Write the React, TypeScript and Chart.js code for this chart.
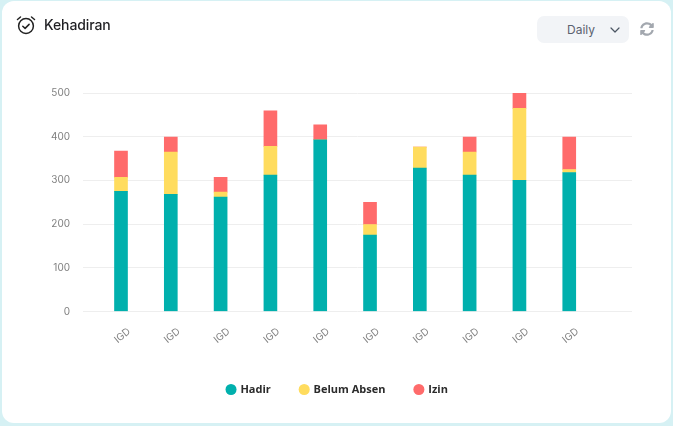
import React, { useEffect, useRef } from "react";
import { Chart, registerables } from "chart.js";

Chart.register(...registerables);

const categories = ["IGD", "IGD", "IGD", "IGD", "IGD", "IGD", "IGD", "IGD", "IGD", "IGD"];
const hadir = [275, 268, 262, 312, 393, 175, 328, 312, 300, 318];
const belumAbsen = [32, 97, 11, 66, 0, 24, 48, 53, 165, 7];
const izin = [60, 34, 34, 81, 34, 51, 0, 34, 35, 74];
const yTicks = [0, 100, 200, 300, 400, 500];

const toPoints = (vals: number[]) => vals.map((y, x) => ({ x, y }));

export default function App() {
  const ref = useRef<HTMLCanvasElement>(null);
  useEffect(() => {
    const ds = (label: string, data: number[], color: string) => ({
      label,
      data: toPoints(data),
      backgroundColor: color,
      borderWidth: 0,
      barThickness: 13,
      stack: "a",
    });
    const chart = new Chart(ref.current!, {
      type: "bar",
      data: {
        datasets: [
          ds("Hadir", hadir, "#00b0ad"),
          ds("Belum Absen", belumAbsen, "#ffdc5e"),
          ds("Izin", izin, "#ff6b6b"),
        ],
      },
      options: {
        animation: false,
        responsive: false,
        layout: { padding: { left: 43, right: 41, top: 93, bottom: 21 } },
        plugins: {
          tooltip: { enabled: false },
          legend: {
            position: "bottom",
            labels: {
              usePointStyle: true,
              pointStyle: "circle",
              boxWidth: 7.8,
              boxHeight: 7.8,
              padding: 29.5,
              color: "#2b2b2b",
              font: { family: "'Open Sans'", size: 11, weight: "bold" },
            },
          },
        },
        scales: {
          x: {
            type: "linear",
            stacked: true,
            offset: false,
            min: -0.763,
            max: 10.26,
            afterBuildTicks: (s: any) => {
              s.ticks = categories.map((_, i) => ({ value: i }));
            },
            afterFit: (s: any) => {
              s.height = 43;
            },
            grid: { display: false, drawTicks: false, offset: false },
            border: { display: false },
            ticks: {
              autoSkip: false,
              minRotation: 40,
              maxRotation: 40,
              labelOffset: 8,
              padding: 14,
              color: "#808080",
              font: { family: "Inter", size: 10 },
              callback: (v: any) => categories[v],
            },
          },
          y: {
            stacked: true,
            min: 0,
            max: 500,
            afterBuildTicks: (s: any) => {
              s.ticks = yTicks.map((value) => ({ value }));
            },
            afterFit: (s: any) => {
              s.width = 40;
            },
            grid: { color: "#eeeeee", drawTicks: false, lineWidth: 1 },
            border: { display: false },
            ticks: {
              padding: 13,
              color: "#808080",
              font: { family: "Inter", size: 10 },
            },
          },
        },
      },
    } as any);
    return () => chart.destroy();
  }, []);

  return (
    <div style={{ position: "fixed", inset: 0, background: "#d6f1f4", overflow: "hidden" }}>
      <div
        style={{
          position: "absolute",
          left: 2,
          top: 1,
          width: 669,
          height: 422,
          background: "#fff",
          borderRadius: 12,
        }}
      />
      <canvas ref={ref} width={673} height={426} style={{ position: "absolute", left: 0, top: 0, width: 673, height: 426 }} />
      <svg width="22" height="22" viewBox="0 0 22 22" style={{ position: "absolute", left: 15, top: 14 }} fill="none" stroke="#222" strokeWidth="1.5" strokeLinecap="round" strokeLinejoin="round">
        <circle cx="11" cy="12" r="7.4" />
        <path d="M7.8 12.2l2.3 2.2 4-4" />
        <path d="M2.5 5.5L5.5 3M19.5 5.5L16.5 3" />
      </svg>
      <div style={{ position: "absolute", left: 44, top: 16, fontFamily: "Inter", fontSize: 14, fontWeight: 500, letterSpacing: -0.1, color: "#1f1f23", lineHeight: "18px" }}>
        Kehadiran
      </div>
      <div style={{ position: "absolute", left: 537, top: 16, width: 92, height: 27, background: "#f2f4f7", borderRadius: 7 }}>
        <div style={{ position: "absolute", left: 30, top: 5, fontFamily: "Inter", fontSize: 12, color: "#5b6270", lineHeight: "17px" }}>Daily</div>
        <svg width="10" height="6" viewBox="0 0 10 6" style={{ position: "absolute", left: 73, top: 11 }} fill="none" stroke="#4b5563" strokeWidth="1.2" strokeLinecap="round" strokeLinejoin="round">
          <path d="M1 1l4 4 4-4" />
        </svg>
      </div>
      <svg width="14" height="14" viewBox="0 0 512 512" style={{ position: "absolute", left: 640, top: 22 }} fill="#a3a8af">
        <path d="M370.7 133.3C339.5 104 298.9 88 255.8 88c-77.5.1-144.3 53.2-162.8 126.9-1.3 5.4-6.1 9.2-11.7 9.2H24.1c-7.5 0-13.2-6.8-11.8-14.2C33.9 94.9 134.8 8 256 8c66.4 0 126.8 26.1 171.3 68.7L463 41c15.1-15.1 41-4.4 41 17v134c0 13.3-10.7 24-24 24H346c-21.4 0-32.1-25.9-17-41l41.7-41.7zM32 296h134c21.4 0 32.1 25.9 17 41l-41.8 41.8c31.3 29.3 71.8 45.3 114.9 45.2 77.4-.1 144.3-53.1 162.8-126.8 1.3-5.4 6.1-9.2 11.7-9.2h57.3c7.5 0 13.2 6.8 11.8 14.2C478.1 417.1 377.2 504 256 504c-66.4 0-126.8-26.1-171.3-68.7L49 471c-15.1 15.1-41 4.4-41-17V320c0-13.3 10.7-24 24-24z" />
      </svg>
    </div>
  );
}
